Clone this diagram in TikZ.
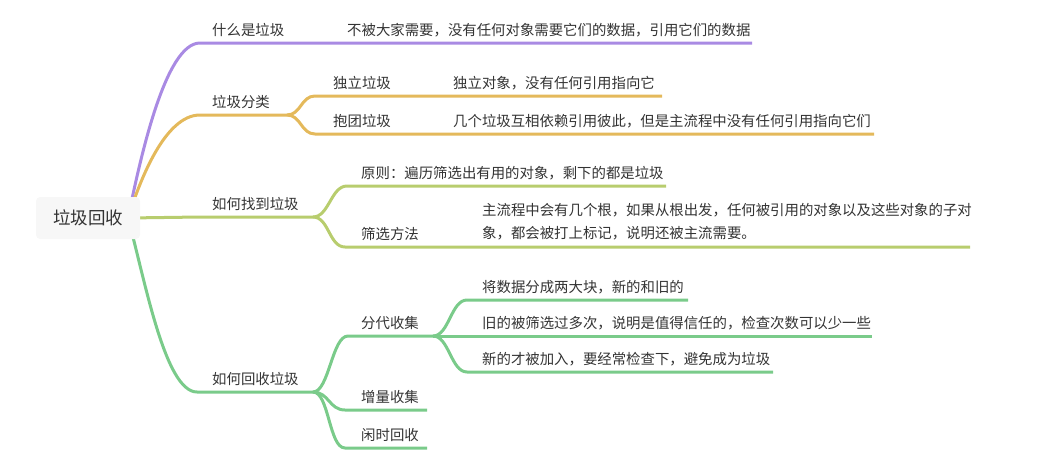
\documentclass[tikz,border=0pt]{standalone}
\usepackage{fontspec}
\setmainfont{Noto Sans CJK SC}
\usetikzlibrary{backgrounds}
\definecolor{mmpurple}{HTML}{A98AE3}
\definecolor{mmorange}{HTML}{E4B95B}
\definecolor{mmlime}{HTML}{B8CD6E}
\definecolor{mmgreen}{HTML}{7ACB8A}
\definecolor{mmink}{HTML}{333333}
\definecolor{mmroot}{HTML}{F7F7F7}
\tikzset{
  topic/.style={
    anchor=base west, inner sep=0pt, text=mmink,
    font=\fontsize{14.4}{23}\selectfont
  },
  roottopic/.style={
    rectangle, rounded corners=4pt, fill=mmroot, minimum width=104pt,
    minimum height=42pt, text=mmink, font=\fontsize{17.5}{20}\selectfont
  },
  branch/.style={line width=3pt},
  fork/.style={line width=3pt}
}

\begin{document}
\begin{tikzpicture}[x=1pt, y=-1pt]
  \useasboundingbox (0,0) rectangle (1051,463);

  % Root
  \node[roottopic] (root) at (88,218) {垃圾回收};
  \coordinate (hub) at (128,218);

  % Underline ends
  \coordinate (what-a) at (200,43);     \coordinate (what-b) at (290,43);
  \coordinate (whatd-a) at (300,43);    \coordinate (whatd-b) at (752,43);
  \coordinate (kind-a) at (200,115);    \coordinate (kind-b) at (287,115);
  \coordinate (alone-a) at (315,96);    \coordinate (alone-b) at (425,96);
  \coordinate (aloned-a) at (435,96);   \coordinate (aloned-b) at (662,96);
  \coordinate (group-a) at (315,134);   \coordinate (group-b) at (425,134);
  \coordinate (groupd-a) at (435,134);  \coordinate (groupd-b) at (874,134);
  \coordinate (find-a) at (200,217);    \coordinate (find-b) at (313,217);
  \coordinate (rule-a) at (347,186);    \coordinate (rule-b) at (666,186);
  \coordinate (scan-a) at (345,247);    \coordinate (scan-b) at (426,247);
  \coordinate (scand-a) at (436,247);   \coordinate (scand-b) at (970,247);
  \coordinate (reclaim-a) at (197,392); \coordinate (reclaim-b) at (313,392);
  \coordinate (gen-a) at (348,336);     \coordinate (gen-b) at (433,336);
  \coordinate (split-a) at (467,300);   \coordinate (split-b) at (688,300);
  \coordinate (old-a) at (467,336);     \coordinate (old-b) at (872,336);
  \coordinate (young-a) at (467,372);   \coordinate (young-b) at (773,372);
  \coordinate (incr-a) at (345,410);    \coordinate (incr-b) at (427,410);
  \coordinate (idle-a) at (345,448);    \coordinate (idle-b) at (427,448);

  % Branches
  \begin{scope}[on background layer]
    \draw[branch, mmpurple] (hub) .. controls (140,160) and (165,43) .. (what-a)
      -- (what-b) -- (whatd-a) -- (whatd-b);

    \draw[branch, mmorange] (hub) .. controls (140,180) and (165,115) .. (kind-a)
      -- (kind-b);
    \draw[fork, mmorange] (kind-b) .. controls +(14,0) and +(-14,0) .. (alone-a)
      -- (alone-b) -- (aloned-a) -- (aloned-b);
    \draw[fork, mmorange] (kind-b) .. controls +(14,0) and +(-14,0) .. (group-a)
      -- (group-b) -- (groupd-a) -- (groupd-b);

    \draw[branch, mmlime] (hub) -- (find-a) -- (find-b);
    \draw[fork, mmlime] (find-b) .. controls +(16,0) and +(-16,0) .. (rule-a)
      -- (rule-b);
    \draw[fork, mmlime] (find-b) .. controls +(16,0) and +(-16,0) .. (scan-a)
      -- (scan-b) -- (scand-a) -- (scand-b);

    \draw[branch, mmgreen] (hub) .. controls (145,280) and (165,392) .. (reclaim-a)
      -- (reclaim-b);
    \draw[fork, mmgreen] (reclaim-b) .. controls +(16,0) and +(-16,0) .. (gen-a)
      -- (gen-b);
    \draw[fork, mmgreen] (reclaim-b) .. controls +(16,0) and +(-16,0) .. (incr-a)
      -- (incr-b);
    \draw[fork, mmgreen] (reclaim-b) .. controls +(16,0) and +(-16,0) .. (idle-a)
      -- (idle-b);
    \draw[fork, mmgreen] (gen-b) .. controls +(16,0) and +(-16,0) .. (split-a)
      -- (split-b);
    \draw[fork, mmgreen] (gen-b) -- (old-a) -- (old-b);
    \draw[fork, mmgreen] (gen-b) .. controls +(16,0) and +(-16,0) .. (young-a)
      -- (young-b);
  \end{scope}

  % Topics
  \node[topic] (what) at (212,35.5) {什么是垃圾};
  \node[topic] (whatd) at (347,35.5)
    {不被大家需要，没有任何对象需要它们的数据，引用它们的数据};
  \node[topic] (kind) at (212,107.5) {垃圾分类};
  \node[topic] (alone) at (333,88.5) {独立垃圾};
  \node[topic] (aloned) at (453,88.5) {独立对象，没有任何引用指向它};
  \node[topic] (group) at (333,126.5) {抱团垃圾};
  \node[topic] (groupd) at (453,126.5)
    {几个垃圾互相依赖引用彼此，但是主流程中没有任何引用指向它们};
  \node[topic] (find) at (212,209.5) {如何找到垃圾};
  \node[topic] (rule) at (361,178.5) {原则：遍历筛选出有用的对象，剩下的都是垃圾};
  \node[topic] (scan) at (361,239.5) {筛选方法};
  \node[topic, align=left] (scand) at (482,238.5)
    {主流程中会有几个根，如果从根出发，任何被引用的对象以及这些对象的子对\\
     象，都会被打上标记，说明还被主流需要。};
  \node[topic] (reclaim) at (212,384.5) {如何回收垃圾};
  \node[topic] (gen) at (361,328.5) {分代收集};
  \node[topic] (split) at (482,292.5) {将数据分成两大块，新的和旧的};
  \node[topic] (old) at (482,328.5)
    {旧的被筛选过多次，说明是值得信任的，检查次数可以少一些};
  \node[topic] (young) at (482,364.5) {新的才被加入，要经常检查下，避免成为垃圾};
  \node[topic] (incr) at (361,402.5) {增量收集};
  \node[topic] (idle) at (361,440.5) {闲时回收};
\end{tikzpicture}
\end{document}
